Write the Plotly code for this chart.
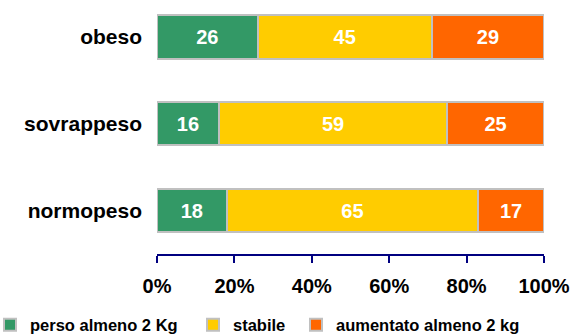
import plotly.graph_objects as go

categories = ["normopeso", "sovrappeso", "obeso"]
perso = [18, 16, 26]
stabile = [65, 59, 45]
aumentato = [17, 25, 29]
series_names = ["perso almeno 2 Kg", "stabile", "aumentato almeno 2 kg"]
colors = ["#339966", "#FFCC00", "#FF6600"]
tick_vals = [0, 20, 40, 60, 80, 100]
tick_text = ["0%", "20%", "40%", "60%", "80%", "100%"]

FONT = "Arial, Liberation Sans, sans-serif"
legend_ids = ["legend", "legend2", "legend3"]
legend_x = [-10, 193, 296]  # px positions of legend entries
PLOT_L, PLOT_W = 157, 387

fig = go.Figure()
for name, vals, col, lid in zip(series_names, [perso, stabile, aumentato], colors, legend_ids):
    fig.add_trace(go.Bar(
        y=categories, x=vals, name=name, orientation="h",
        marker=dict(color=col, line=dict(color="#C0C0C0", width=2)),
        text=[str(v) for v in vals], textposition="inside",
        insidetextanchor="middle",
        textfont=dict(color="white", size=20, family=FONT, weight="bold"),
        width=0.5, legend=lid,
    ))

legend_common = dict(
    orientation="h", xref="paper", yref="container", xanchor="left",
    y=1 - 325 / 336, yanchor="middle",
    font=dict(size=16.5, family=FONT, weight="bold", color="black"),
    itemwidth=30, bgcolor="rgba(0,0,0,0)",
)

fig.update_layout(
    barmode="stack",
    width=572, height=336,
    margin=dict(l=PLOT_L, r=572 - PLOT_L - PLOT_W, t=0, b=81.5, autoexpand=False),
    plot_bgcolor="white", paper_bgcolor="white",
    font=dict(family=FONT, color="black", size=20, weight="bold"),
    xaxis=dict(
        range=[0, 100], tickvals=tick_vals, ticktext=tick_text,
        showgrid=False, zeroline=False,
        showline=True, linecolor="#000080", linewidth=2,
        ticks="outside", ticklen=7, tickwidth=2, tickcolor="#000080",
        tickfont=dict(size=20, family=FONT, weight="bold"),
        ticklabelstandoff=6,
    ),
    yaxis=dict(
        range=[-0.5, 2.425], showgrid=False, zeroline=False, showline=False,
        ticks="", tickfont=dict(size=21, family=FONT, weight="bold"),
        ticklabelstandoff=14,
    ),
    legend=dict(x=(legend_x[0] - PLOT_L) / PLOT_W, **legend_common),
    legend2=dict(x=(legend_x[1] - PLOT_L) / PLOT_W, **legend_common),
    legend3=dict(x=(legend_x[2] - PLOT_L) / PLOT_W, **legend_common),
    showlegend=True,
)

fig.write_html(
    "out.html",
    config={"displayModeBar": False},
    post_script="document.body.style.margin='0';document.body.style.overflow='hidden';",
)
